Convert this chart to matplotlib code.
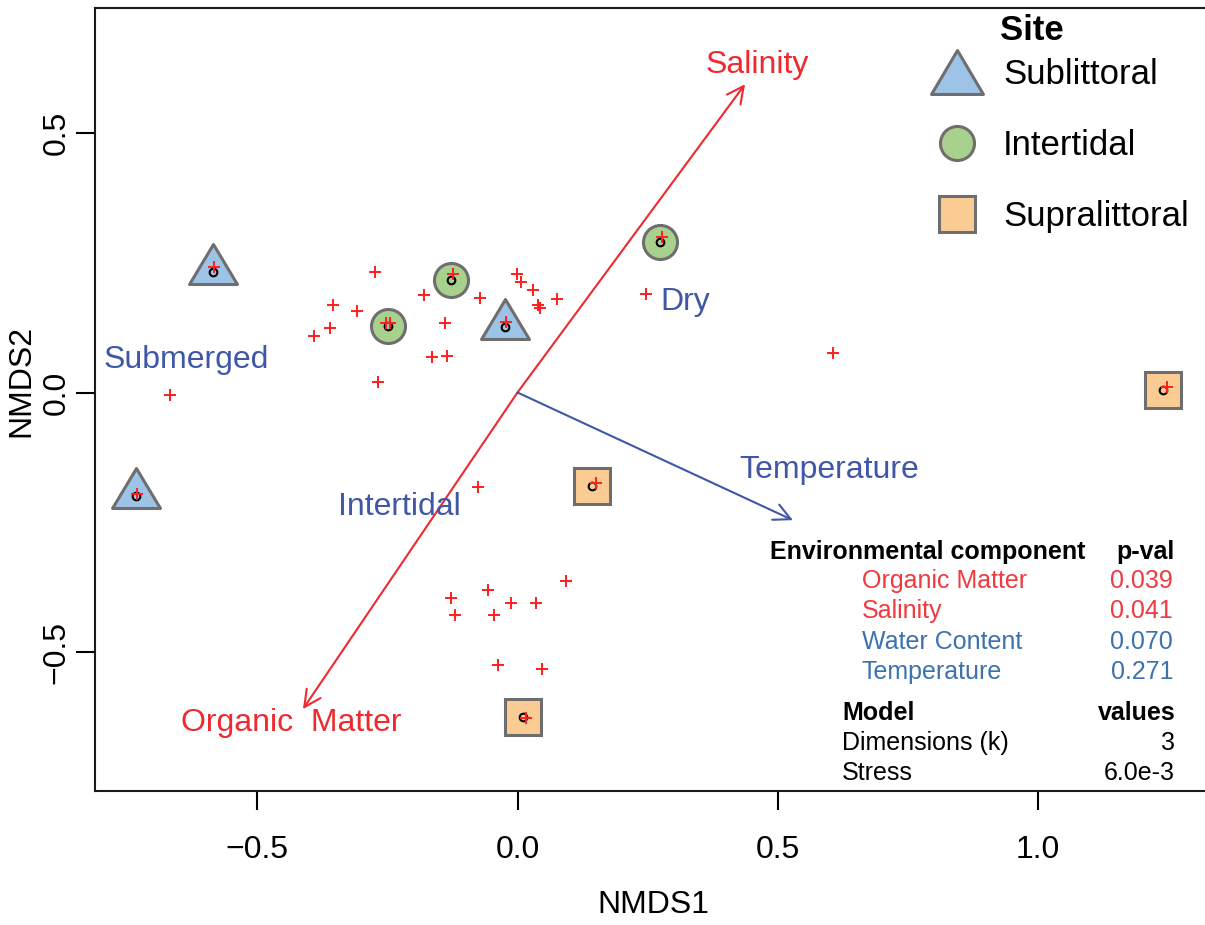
import matplotlib.pyplot as plt
from matplotlib.lines import Line2D
from matplotlib.patches import FancyArrowPatch
from matplotlib.path import Path

plt.rcParams['font.family'] = ['Liberation Sans', 'DejaVu Sans']

# site scores
site_group = ['Sublittoral', 'Sublittoral', 'Sublittoral',
              'Intertidal', 'Intertidal', 'Intertidal',
              'Supralittoral', 'Supralittoral', 'Supralittoral']
site_nmds1 = [-0.585, -0.733, -0.024, -0.249, -0.128, 0.274, 0.143, 0.011, 1.240]
site_nmds2 = [0.232, -0.199, 0.126, 0.128, 0.217, 0.290, -0.180, -0.625, 0.005]

# species scores
species_nmds1 = [-0.583, -0.731, -0.022, -0.253, -0.245, -0.124, 0.278, 0.151, 0.016, 1.247,
                 -0.274, -0.354, -0.308, -0.360, -0.391, -0.180, -0.139, -0.164, -0.135, -0.268,
                 -0.667, -0.001, 0.007, 0.030, 0.076, 0.039, 0.043, -0.072, 0.247, 0.606,
                 -0.076, -0.128, -0.120, -0.057, -0.045, -0.012, 0.036, 0.093, -0.037, 0.047]
species_nmds2 = [0.242, -0.196, 0.136, 0.134, 0.134, 0.228, 0.300, -0.174, -0.627, 0.011,
                 0.232, 0.169, 0.157, 0.124, 0.109, 0.188, 0.134, 0.068, 0.070, 0.020,
                 -0.005, 0.228, 0.213, 0.197, 0.180, 0.169, 0.163, 0.182, 0.190, 0.076,
                 -0.182, -0.396, -0.429, -0.381, -0.429, -0.406, -0.406, -0.363, -0.525, -0.533]

# fitted environmental vectors
vector_names = ['Salinity', 'Organic  Matter', 'Temperature']
vector_nmds1 = [0.437, -0.412, 0.529]
vector_nmds2 = [0.594, -0.610, -0.246]

# water content gradient labels
gradient_labels = ['Submerged', 'Dry', 'Intertidal']

env_components = ['Organic Matter', 'Salinity', 'Water Content', 'Temperature']
env_pvals = [0.039, 0.041, 0.070, 0.271]
model_rows = ['Dimensions (k)', 'Stress']
model_values = ['3', '6.0e-3']

RED = '#EE2A2F'
BLUE = '#3F57A6'
TAB_RED = '#F03A3F'
TAB_BLUE = '#3C72AE'
EDGE = '#6E6E6E'

W, H = 1205, 925


def fx(px):
    return px / W


def fy(py):
    return 1 - py / H


# triangle with its centroid at the origin
tri = Path([(0, 28), (-24, -12), (24, -12), (0, 28)],
           [Path.MOVETO, Path.LINETO, Path.LINETO, Path.CLOSEPOLY])
tri_leg = Path([(0, 22), (-26, -22), (26, -22), (0, 22)],
               [Path.MOVETO, Path.LINETO, Path.LINETO, Path.CLOSEPOLY])

styles = {
    'Sublittoral': dict(marker=tri, mfc='#9DC3E6', ms=40.3),
    'Intertidal': dict(marker='o', mfc='#A9D18E', ms=24.5),
    'Supralittoral': dict(marker='s', mfc='#FBCB94', ms=26),
}
legend_styles = {
    'Sublittoral': dict(marker=tri_leg, mfc='#9DC3E6', ms=37.4),
    'Intertidal': dict(marker='o', mfc='#A9D18E', ms=24.5),
    'Supralittoral': dict(marker='s', mfc='#FBCB94', ms=26),
}

fig = plt.figure(figsize=(W / 100, H / 100), dpi=100)
ax = fig.add_axes([fx(95), fy(791), fx(1211) - fx(95), fy(8) - fy(791)])

for x, y, g in zip(site_nmds1, site_nmds2, site_group):
    ax.plot(x, y, linestyle='none', mec=EDGE, mew=2.2, zorder=2, **styles[g])

ax.plot(site_nmds1, site_nmds2, 'o', ms=5.5, mfc='none', mec='black', mew=1.5, zorder=3)
ax.plot(species_nmds1, species_nmds2, '+', ms=9, color='#FF1E1E', mew=1.4, zorder=4)

# environmental vectors
vec_colors = [RED, RED, BLUE]
for vx, vy, c in zip(vector_nmds1, vector_nmds2, vec_colors):
    ax.add_patch(FancyArrowPatch((0, 0), (vx, vy), arrowstyle='->,head_length=0.6,head_width=0.3',
                                 mutation_scale=20, color=c, lw=1.5, shrinkA=0, shrinkB=0, zorder=1))

vec_label_pos = [(0.460, 0.631), (-0.435, -0.637), (0.598, -0.149)]
for name, (lx, ly), c in zip(vector_names, vec_label_pos, vec_colors):
    ax.text(lx, ly, name, color=c, fontsize=23, ha='center', va='center')

grad_pos = [(-0.637, 0.063), (0.322, 0.174), (-0.226, -0.221)]
for name, (lx, ly) in zip(gradient_labels, grad_pos):
    ax.text(lx, ly, name, color=BLUE, fontsize=23, ha='center', va='center')

ax.set_xlim((95 - 517.5) / 520.7, (1211 - 517.5) / 520.7)
ax.set_ylim((392.5 - 791) / 519, (392.5 - 8) / 519)
ax.set_xticks([-0.5, 0.0, 0.5, 1.0])
ax.set_yticks([-0.5, 0.0, 0.5])
ax.set_xticklabels(['\u22120.5', '0.0', '0.5', '1.0'])
ax.set_yticklabels(['\u22120.5', '0.0', '0.5'])
ax.tick_params(length=13.7, width=1.5, labelsize=23, direction='out')
ax.tick_params(axis='x', pad=18)
ax.tick_params(axis='y', pad=3)
plt.setp(ax.get_yticklabels(), rotation=90, va='center', ha='right')
for s in ax.spines.values():
    s.set_linewidth(1.5)
    s.set_color('#1a1a1a')

ax.set_xlabel('NMDS1', fontsize=23, va='center')
ax.xaxis.set_label_coords(0.5, -0.1456)
ax.set_ylabel('NMDS2', fontsize=23, va='center')
ax.yaxis.set_label_coords(-0.066, 0.5236)

# site legend
handles = [Line2D([], [], linestyle='none', mec=EDGE, mew=2.2, **legend_styles[g])
           for g in ['Sublittoral', 'Intertidal', 'Supralittoral']]
fig.legend(handles, ['Sublittoral', 'Intertidal', 'Supralittoral'], loc='upper left',
           bbox_to_anchor=(fx(931), fy(58)), frameon=False, fontsize=25, handlelength=1.5,
           handletextpad=0.58, labelspacing=1.09, borderpad=0, borderaxespad=0)
fig.text(fx(1000), fy(31), 'Site', fontsize=25, fontweight='bold', va='center', ha='left')

# statistics table
fig.text(fx(770), fy(552), 'Environmental component', fontsize=18, fontweight='bold', va='center')
fig.text(fx(1175), fy(552), 'p-val', fontsize=18, fontweight='bold', va='center', ha='right')
row_y = [581, 611, 642, 672]
tab_colors = [TAB_RED, TAB_RED, TAB_BLUE, TAB_BLUE]
for name, p, c, py in zip(env_components, env_pvals, tab_colors, row_y):
    fig.text(fx(862), fy(py), name, fontsize=18, color=c, va='center')
    fig.text(fx(1173), fy(py), f'{p:.3f}', fontsize=18, color=c, va='center', ha='right')

fig.text(fx(842), fy(713), 'Model', fontsize=18, fontweight='bold', va='center')
fig.text(fx(1176), fy(713), 'values', fontsize=18, fontweight='bold', va='center', ha='right')
for name, v, py in zip(model_rows, model_values, [743, 773]):
    fig.text(fx(842), fy(py), name, fontsize=18, va='center')
    fig.text(fx(1175), fy(py), v, fontsize=18, va='center', ha='right')

fig.savefig('out.png', dpi=100)
